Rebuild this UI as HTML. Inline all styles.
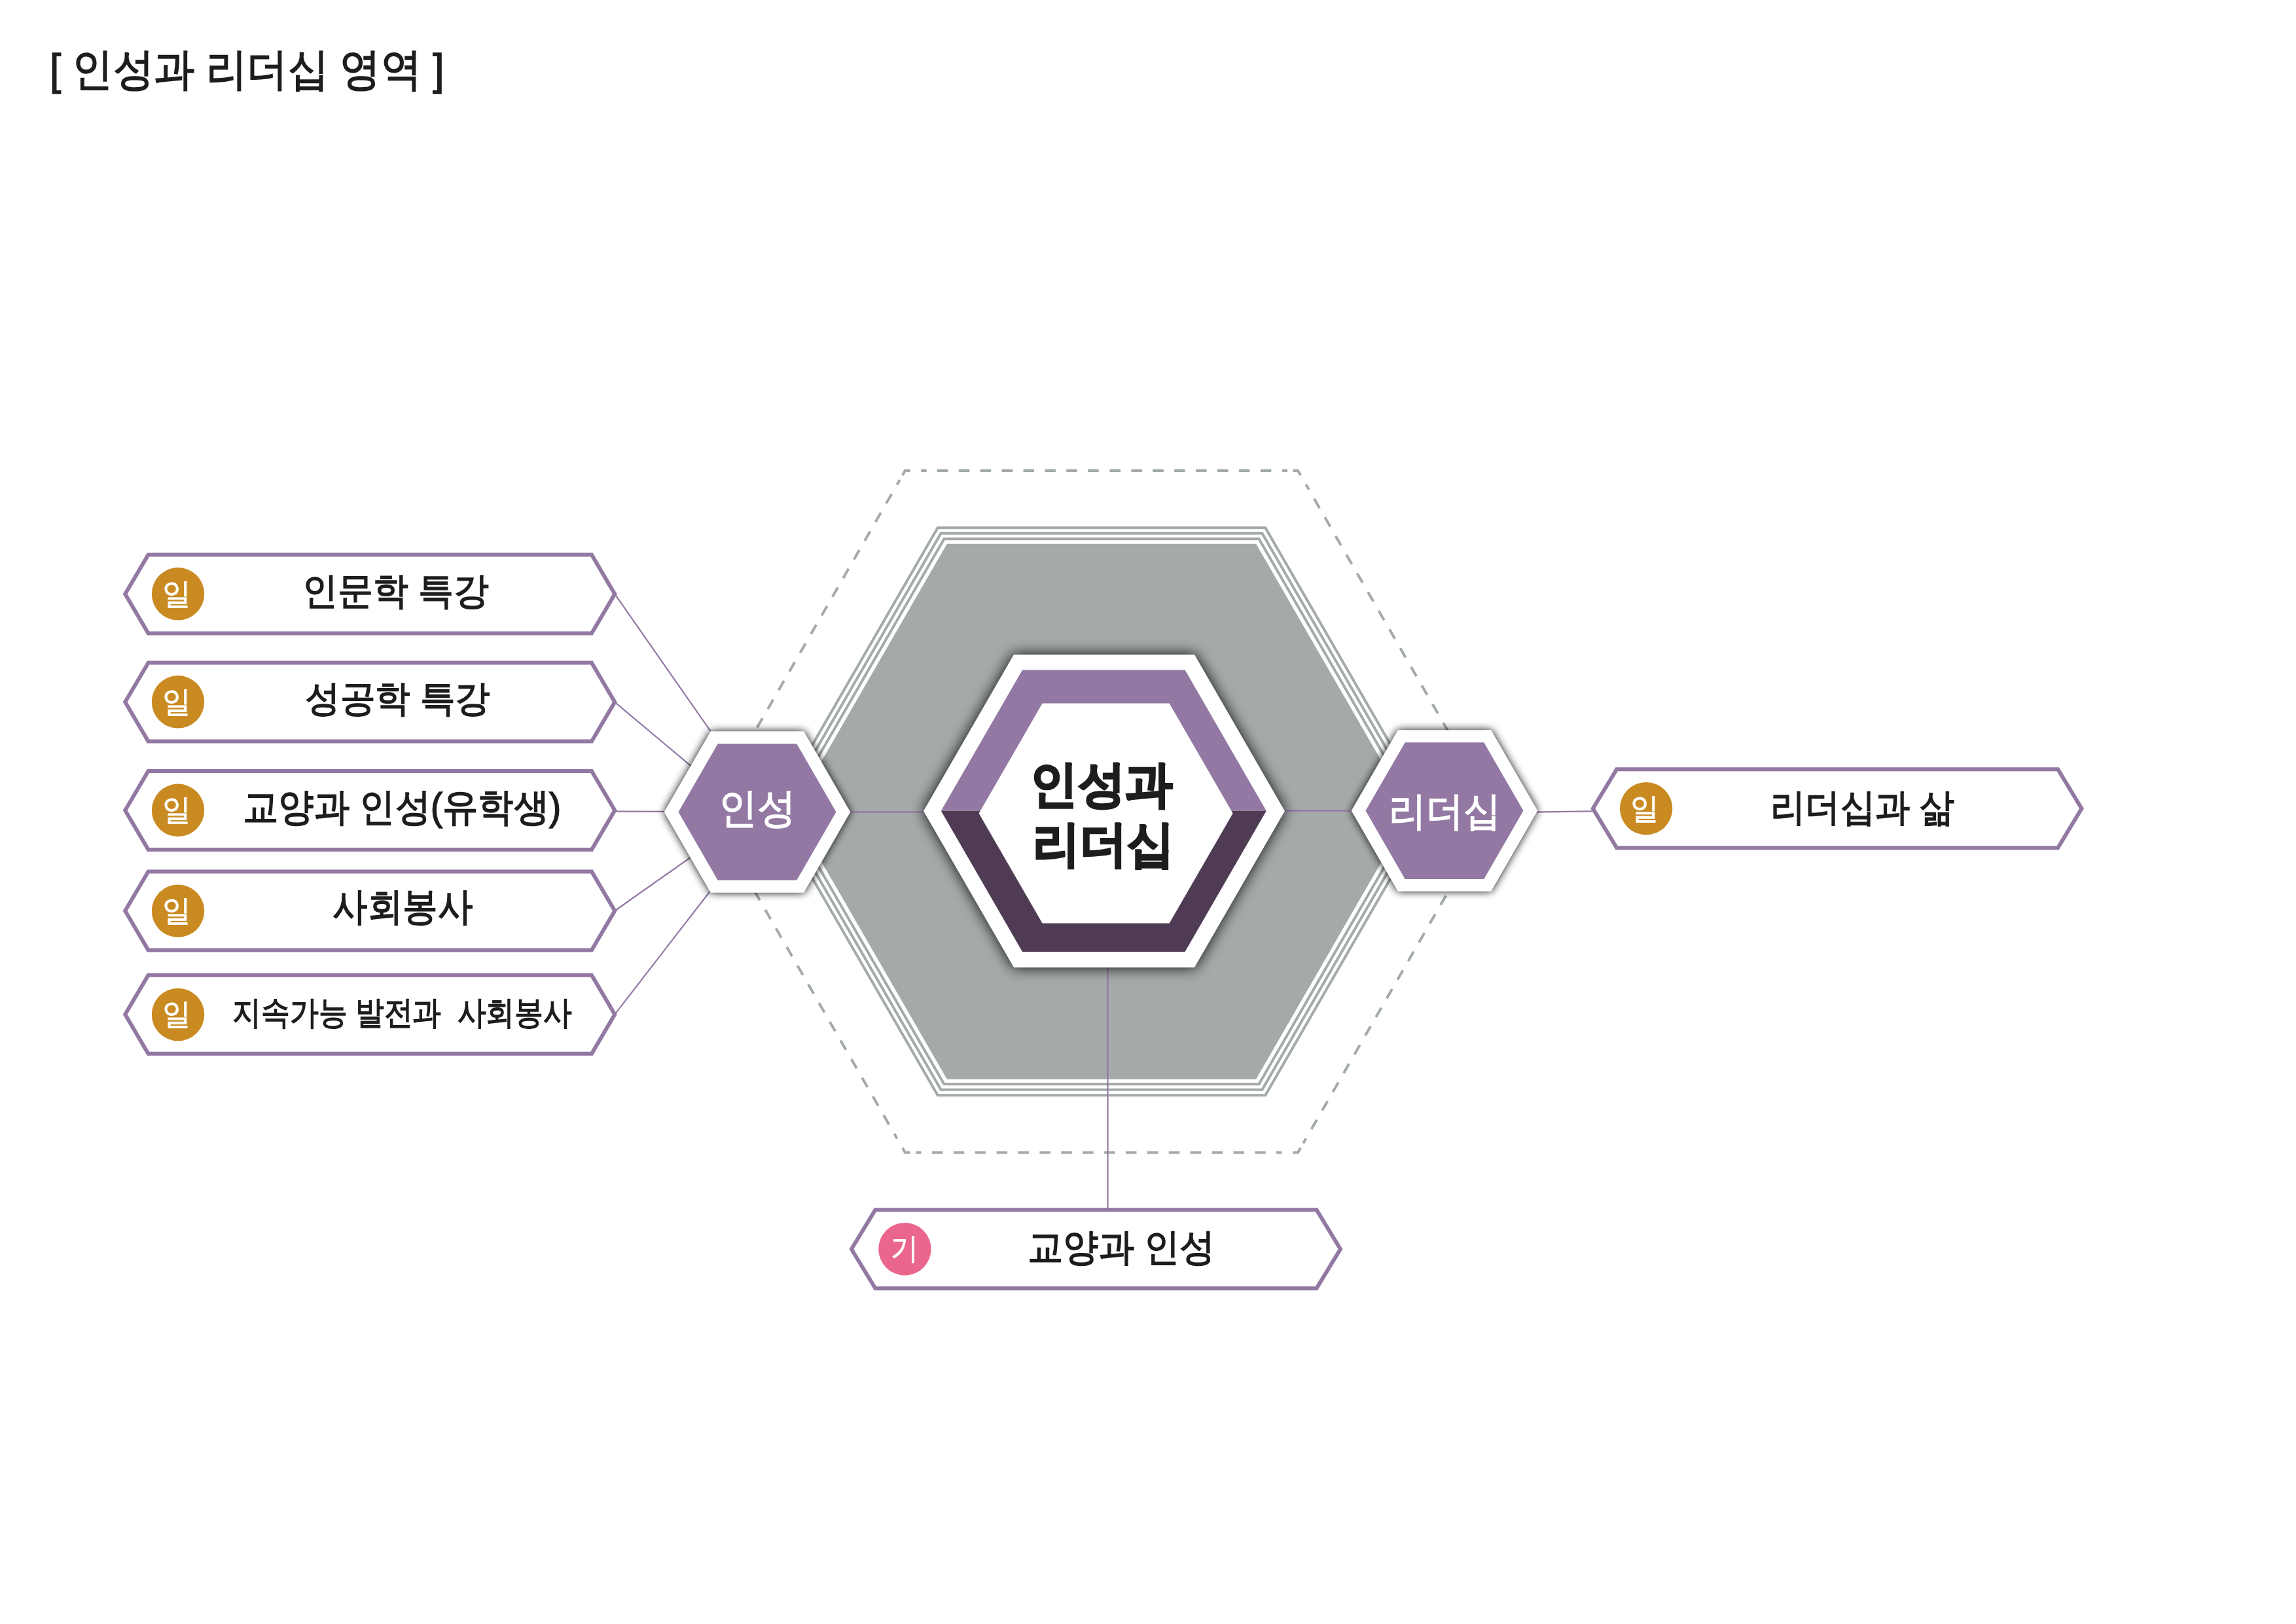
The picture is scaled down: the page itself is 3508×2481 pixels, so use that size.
<!DOCTYPE html>
<html lang="ko"><head><meta charset="utf-8"><title>인성과 리더십 영역</title>
<style>
html,body{margin:0;padding:0;background:#fff;}
body{position:relative;width:3508px;height:2481px;overflow:hidden;font-family:"Liberation Sans",sans-serif;}
svg.bg{position:absolute;left:0;top:0;}
.t{position:absolute;white-space:pre;line-height:1;color:#1d1d1b;transform-origin:0 0;}
.w{color:#fff;}
</style></head><body>
<svg class="bg" width="3508" height="2481" viewBox="0 0 3508 2481">
<defs>
<filter id="shBig" x="-20%" y="-20%" width="140%" height="140%" color-interpolation-filters="sRGB"><feGaussianBlur in="SourceAlpha" stdDeviation="11"/><feComponentTransfer><feFuncA type="linear" slope="0.95"/></feComponentTransfer><feMerge><feMergeNode/><feMergeNode in="SourceGraphic"/></feMerge></filter>
<filter id="shSm" x="-20%" y="-20%" width="140%" height="140%" color-interpolation-filters="sRGB"><feGaussianBlur in="SourceAlpha" stdDeviation="6.5"/><feComponentTransfer><feFuncA type="linear" slope="0.95"/></feComponentTransfer><feMerge><feMergeNode/><feMergeNode in="SourceGraphic"/></feMerge></filter>
</defs>
<path d="M1683.00,718.90 L1382.90,718.90 L1082.80,1239.80 L1382.90,1760.70 L1983.10,1760.70 L2283.20,1239.80 L1983.10,718.90 Z" fill="none" stroke="#a3aaa9" stroke-width="4" stroke-linejoin="miter" stroke-dasharray="0.00 4.25 16.50 16.40 16.50 16.40 16.50 16.40 16.50 16.40 16.50 16.40 16.50 16.40 16.50 16.40 16.50 16.20 8.60 16.60 15.71 8.41 8.41 16.42 16.52 16.42 16.52 16.42 16.52 16.42 16.52 16.42 16.52 16.42 16.52 16.42 16.52 16.42 16.52 16.42 16.52 16.42 16.52 16.42 16.52 16.42 16.52 16.42 16.52 16.42 16.52 16.42 16.52 16.42 16.52 16.22 8.61 16.62 15.72 8.41 8.41 16.42 16.52 16.42 16.52 16.42 16.52 16.42 16.52 16.42 16.52 16.42 16.52 16.42 16.52 16.42 16.52 16.42 16.52 16.42 16.52 16.42 16.52 16.42 16.52 16.42 16.52 16.42 16.52 16.42 16.52 16.42 16.52 16.22 8.61 16.62 15.71 8.40 8.40 16.40 16.50 16.40 16.50 16.40 16.50 16.40 16.50 16.40 16.50 16.40 16.50 16.40 16.50 16.40 16.50 16.40 16.50 16.40 16.50 16.40 16.50 16.40 16.50 16.40 16.50 16.40 16.50 16.40 16.50 16.40 16.50 16.20 8.60 16.60 15.71 8.41 8.41 16.42 16.52 16.42 16.52 16.42 16.52 16.42 16.52 16.42 16.52 16.42 16.52 16.42 16.52 16.42 16.52 16.42 16.52 16.42 16.52 16.42 16.52 16.42 16.52 16.42 16.52 16.42 16.52 16.42 16.52 16.42 16.52 16.22 8.61 16.62 15.72 8.41 8.41 16.42 16.52 16.42 16.52 16.42 16.52 16.42 16.52 16.42 16.52 16.42 16.52 16.42 16.52 16.42 16.52 16.42 16.52 16.42 16.52 16.42 16.52 16.42 16.52 16.42 16.52 16.42 16.52 16.42 16.52 16.42 16.52 16.22 8.61 16.62 15.71 8.40 8.40 16.40 16.50 16.40 16.50 16.40 16.50 16.40 16.50 16.40 16.50 16.40 16.50 16.40 16.50 16.40 16.50 12.15"/>
<polygon points="1182.40,1239.70 1432.70,806.17 1933.30,806.17 2183.60,1239.70 1933.30,1673.23 1432.70,1673.23" fill="none" stroke="#a3aaa9" stroke-width="4" stroke-linejoin="miter"/>
<polygon points="1192.20,1239.70 1437.60,814.65 1928.40,814.65 2173.80,1239.70 1928.40,1664.75 1437.60,1664.75" fill="none" stroke="#a3aaa9" stroke-width="4" stroke-linejoin="miter"/>
<polygon points="1202.00,1239.70 1442.50,823.14 1923.50,823.14 2164.00,1239.70 1923.50,1656.26 1442.50,1656.26" fill="none" stroke="#a3aaa9" stroke-width="4" stroke-linejoin="miter"/>
<polygon points="1210.80,1239.70 1446.90,830.76 1919.10,830.76 2155.20,1239.70 1919.10,1648.64 1446.90,1648.64" fill="#a3aaa9"/>
<line x1="939.30" y1="907.40" x2="1085.70" y2="1117.20" stroke="#9278a2" stroke-width="2.2"/>
<line x1="939.30" y1="1072.60" x2="1060.00" y2="1173.80" stroke="#9278a2" stroke-width="2.2"/>
<line x1="939.30" y1="1239.60" x2="1020.00" y2="1239.90" stroke="#9278a2" stroke-width="2.2"/>
<line x1="939.30" y1="1391.50" x2="1060.00" y2="1306.30" stroke="#9278a2" stroke-width="2.2"/>
<line x1="939.30" y1="1549.70" x2="1088.00" y2="1357.50" stroke="#9278a2" stroke-width="2.2"/>
<line x1="1290.00" y1="1240.30" x2="1420.00" y2="1240.30" stroke="#9278a2" stroke-width="2.2"/>
<line x1="1955.00" y1="1238.60" x2="2072.00" y2="1238.60" stroke="#9278a2" stroke-width="2.2"/>
<line x1="2340.00" y1="1240.60" x2="2434.00" y2="1239.40" stroke="#9278a2" stroke-width="2.2"/>
<line x1="1692.50" y1="1470.00" x2="1692.50" y2="1848.00" stroke="#9278a2" stroke-width="2.2"/>
<polygon points="1411.00,1239.00 1549.00,999.98 1825.00,999.98 1963.00,1239.00 1825.00,1478.02 1549.00,1478.02" fill="#fff" filter="url(#shBig)"/>
<polygon points="1437.80,1238.80 1562.05,1023.59 1810.55,1023.59 1934.80,1238.80" fill="#9278a2"/>
<polygon points="1934.80,1238.80 1810.55,1454.01 1562.05,1454.01 1437.80,1238.80" fill="#4f3c54"/>
<polygon points="1495.60,1242.60 1592.60,1074.59 1786.60,1074.59 1883.60,1242.60 1786.60,1410.61 1592.60,1410.61" fill="#fff"/>
<polygon points="1014.70,1240.50 1085.85,1117.26 1228.15,1117.26 1299.30,1240.50 1228.15,1363.74 1085.85,1363.74" fill="#fff" filter="url(#shSm)"/>
<polygon points="1036.50,1240.50 1096.75,1136.14 1217.25,1136.14 1277.50,1240.50 1217.25,1344.86 1096.75,1344.86" fill="#9278a2"/>
<polygon points="2064.70,1238.60 2135.85,1115.36 2278.15,1115.36 2349.30,1238.60 2278.15,1361.84 2135.85,1361.84" fill="#fff" filter="url(#shSm)"/>
<polygon points="2086.50,1238.60 2146.75,1134.24 2267.25,1134.24 2327.50,1238.60 2267.25,1342.96 2146.75,1342.96" fill="#9278a2"/>
<polygon points="191.20,907.40 226.50,847.40 904.00,847.40 939.30,907.40 904.00,967.40 226.50,967.40" fill="#fff" stroke="#9278a2" stroke-width="6" stroke-linejoin="miter"/>
<polygon points="191.20,1072.60 226.50,1012.60 904.00,1012.60 939.30,1072.60 904.00,1132.60 226.50,1132.60" fill="#fff" stroke="#9278a2" stroke-width="6" stroke-linejoin="miter"/>
<polygon points="191.20,1238.00 226.50,1178.00 904.00,1178.00 939.30,1238.00 904.00,1298.00 226.50,1298.00" fill="#fff" stroke="#9278a2" stroke-width="6" stroke-linejoin="miter"/>
<polygon points="191.20,1391.50 226.50,1331.50 904.00,1331.50 939.30,1391.50 904.00,1451.50 226.50,1451.50" fill="#fff" stroke="#9278a2" stroke-width="6" stroke-linejoin="miter"/>
<polygon points="191.20,1549.70 226.50,1489.70 904.00,1489.70 939.30,1549.70 904.00,1609.70 226.50,1609.70" fill="#fff" stroke="#9278a2" stroke-width="6" stroke-linejoin="miter"/>
<polygon points="2433.80,1235.20 2470.10,1175.20 3144.20,1175.20 3180.50,1235.20 3144.20,1295.20 2470.10,1295.20" fill="#fff" stroke="#9278a2" stroke-width="6" stroke-linejoin="miter"/>
<polygon points="1300.90,1908.30 1337.40,1848.30 2011.50,1848.30 2048.00,1908.30 2011.50,1968.30 1337.40,1968.30" fill="#fff" stroke="#9278a2" stroke-width="6" stroke-linejoin="miter"/>
<circle cx="272.00" cy="907.30" r="40.2" fill="#c98a22"/>
<circle cx="272.00" cy="1072.30" r="40.2" fill="#c98a22"/>
<circle cx="272.00" cy="1237.80" r="40.2" fill="#c98a22"/>
<circle cx="272.00" cy="1391.70" r="40.2" fill="#c98a22"/>
<circle cx="272.00" cy="1550.00" r="40.2" fill="#c98a22"/>
<circle cx="2515.10" cy="1235.20" r="40.2" fill="#c98a22"/>
<circle cx="1382.40" cy="1908.20" r="40.2" fill="#ea668c"/>
</svg>
<div class="t" style="left:75.55px;top:71.90px;font-size:67.50px;transform:scaleX(0.9177);-webkit-text-stroke:1.70px #1d1d1b;">[ 인성과 리더십 영역 ]</div>
<div class="t" style="left:462.45px;top:873.66px;font-size:56.89px;transform:scaleX(0.9476);-webkit-text-stroke:1.70px #1d1d1b;">인문학 특강</div>
<div class="t" style="left:465.72px;top:1039.68px;font-size:55.67px;transform:scaleX(0.9573);-webkit-text-stroke:1.70px #1d1d1b;">성공학 특강</div>
<div class="t" style="left:370.99px;top:1203.96px;font-size:58.85px;transform:scaleX(0.9216);-webkit-text-stroke:1.70px #1d1d1b;">교양과 인성(유학생)</div>
<div class="t" style="left:507.65px;top:1356.09px;font-size:58.56px;transform:scaleX(0.9082);-webkit-text-stroke:1.70px #1d1d1b;">사회봉사</div>
<div class="t" style="left:355.37px;top:1523.47px;font-size:49.78px;transform:scaleX(0.8776);-webkit-text-stroke:1.50px #1d1d1b;">지속가능 발전과  사회봉사</div>
<div class="t" style="left:2704.83px;top:1203.83px;font-size:58.22px;transform:scaleX(0.9185);-webkit-text-stroke:1.70px #1d1d1b;">리더십과 삶</div>
<div class="t" style="left:1570.09px;top:1877.36px;font-size:57.87px;transform:scaleX(0.9363);-webkit-text-stroke:1.70px #1d1d1b;">교양과 인성</div>
<div class="t" style="left:1573.75px;top:1159.94px;font-size:75.81px;transform:scaleX(0.9546);-webkit-text-stroke:2.80px #1d1d1b;font-weight:700;">인성과</div>
<div class="t" style="left:1577.75px;top:1252.43px;font-size:74.68px;transform:scaleX(0.9610);-webkit-text-stroke:2.80px #1d1d1b;font-weight:700;">리더십</div>
<div class="t w" style="left:1097.63px;top:1203.09px;font-size:63.15px;transform:scaleX(0.9368);-webkit-text-stroke:1.60px #fff;">인성</div>
<div class="t w" style="left:2122.10px;top:1208.46px;font-size:61.44px;transform:scaleX(0.9329);-webkit-text-stroke:1.60px #fff;">리더십</div>
<div class="t w" style="left:248.35px;top:883.62px;font-size:46.32px;transform:scaleX(0.9513);-webkit-text-stroke:0.90px #fff;">일</div>
<div class="t w" style="left:248.35px;top:1048.62px;font-size:46.32px;transform:scaleX(0.9513);-webkit-text-stroke:0.90px #fff;">일</div>
<div class="t w" style="left:248.35px;top:1214.12px;font-size:46.32px;transform:scaleX(0.9513);-webkit-text-stroke:0.90px #fff;">일</div>
<div class="t w" style="left:248.35px;top:1368.02px;font-size:46.32px;transform:scaleX(0.9513);-webkit-text-stroke:0.90px #fff;">일</div>
<div class="t w" style="left:248.35px;top:1526.32px;font-size:46.32px;transform:scaleX(0.9513);-webkit-text-stroke:0.90px #fff;">일</div>
<div class="t w" style="left:2491.45px;top:1211.52px;font-size:46.32px;transform:scaleX(0.9513);-webkit-text-stroke:0.90px #fff;">일</div>
<div class="t w" style="left:1360.65px;top:1884.42px;font-size:46.29px;transform:scaleX(0.9159);-webkit-text-stroke:0.90px #fff;">기</div>
</body></html>
